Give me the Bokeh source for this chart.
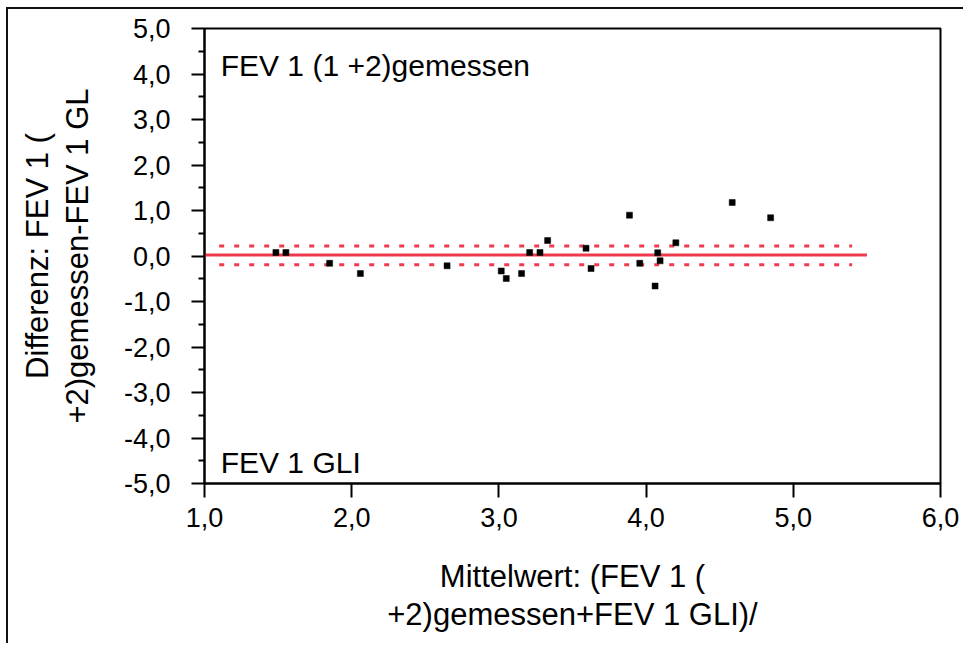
from bokeh.plotting import figure
from bokeh.models import (LinearAxis, Label, CustomJSTickFormatter, FixedTicker,
                          Range1d, ColumnDataSource)
from bokeh.embed import file_html
from bokeh.resources import INLINE

# --- data ---
mean_values = [1.485, 1.553, 1.850, 2.059, 2.648, 3.016, 3.050, 3.154, 3.209, 3.279,
               3.331, 3.592, 3.626, 3.887, 3.957, 4.061, 4.079, 4.095, 4.202, 4.585, 4.846]
diff_values = [0.077, 0.077, -0.160, -0.385, -0.216, -0.330, -0.495, -0.385, 0.077, 0.077,
               0.340, 0.170, -0.275, 0.897, -0.160, -0.660, 0.070, -0.106, 0.290, 1.176, 0.840]
bias = 0.02
ci_upper = 0.22
ci_lower = -0.19
bias_x = [1.0, 5.5]
ci_x = [1.1, 5.4]
x_ticks = [1, 2, 3, 4, 5, 6]
y_ticks = [-5, -4, -3, -2, -1, 0, 1, 2, 3, 4, 5]
y_minor = [-4.5, -3.5, -2.5, -1.5, -0.5, 0.5, 1.5, 2.5, 3.5, 4.5]
x_label_1 = "Mittelwert: (FEV 1 ("
x_label_2 = "+2)gemessen+FEV 1 GLI)/"
y_label_1 = "Differenz: FEV 1 ("
y_label_2 = "+2)gemessen-FEV 1 GL"
text_top = "FEV 1 (1 +2)gemessen"
text_bottom = "FEV 1 GLI"

FONT = "Liberation Sans"
RED = "#ef3a4e"
TICK_FS = "27px"
LABEL_FS = "31px"
TEXT_FS = "30px"

p = figure(width=957, height=636, x_range=Range1d(1, 6), y_range=Range1d(-5, 5),
           output_backend="svg", toolbar_location=None,
           min_border_left=196, min_border_top=19, min_border_right=25, min_border_bottom=162)
p.margin = (7, 0, 0, 6)
p.styles = {"border-top": "2px solid #111", "border-left": "2px solid #111"}

p.grid.visible = False
p.outline_line_color = "black"
p.outline_line_width = 2
p.background_fill_color = "white"
p.border_fill_color = "white"

fmt = CustomJSTickFormatter(code="return tick.toFixed(1).replace('.', ',');")

xa = p.xaxis[0]
xa.ticker = FixedTicker(ticks=x_ticks)
xa.formatter = fmt
xa.axis_line_width = 2
xa.major_tick_line_width = 2
xa.major_tick_out = 14
xa.major_tick_in = 0
xa.minor_tick_line_color = None
xa.major_label_text_font = FONT
xa.major_label_text_font_size = TICK_FS
xa.major_label_text_color = "black"
xa.major_label_standoff = 10
xa.axis_label = x_label_1
xa.axis_label_text_font = FONT
xa.axis_label_text_font_size = LABEL_FS
xa.axis_label_text_font_style = "normal"
xa.axis_label_text_color = "black"
xa.axis_label_standoff = 29

ya = p.yaxis[0]
ya.ticker = FixedTicker(ticks=y_ticks, minor_ticks=y_minor)
ya.formatter = fmt
ya.axis_line_width = 2
ya.major_tick_line_width = 2
ya.minor_tick_line_width = 2
ya.major_tick_out = 13
ya.major_tick_in = 0
ya.minor_tick_out = 6
ya.minor_tick_in = 0
ya.major_label_text_font = FONT
ya.major_label_text_font_size = TICK_FS
ya.major_label_text_color = "black"
ya.major_label_standoff = 21
ya.axis_label = y_label_2
ya.axis_label_text_font = FONT
ya.axis_label_text_font_size = LABEL_FS
ya.axis_label_text_font_style = "normal"
ya.axis_label_text_color = "black"
ya.axis_label_standoff = 26

xa2 = LinearAxis(ticker=FixedTicker(ticks=[]), axis_line_color=None,
                 major_tick_line_color=None, minor_tick_line_color=None,
                 axis_label=x_label_2, axis_label_text_font=FONT,
                 axis_label_text_font_size=LABEL_FS, axis_label_text_font_style="normal",
                 axis_label_text_color="black", axis_label_standoff=0)
p.add_layout(xa2, "below")

ya2 = LinearAxis(ticker=FixedTicker(ticks=[]), axis_line_color=None,
                 major_tick_line_color=None, minor_tick_line_color=None,
                 axis_label=y_label_1, axis_label_text_font=FONT,
                 axis_label_text_font_size=LABEL_FS, axis_label_text_font_style="normal",
                 axis_label_text_color="black", axis_label_standoff=2)
p.add_layout(ya2, "left")

# bias and confidence lines
p.line(bias_x, [bias, bias], line_color=RED, line_width=3)
p.line(ci_x, [ci_upper, ci_upper], line_color=RED, line_width=3, line_dash="5 10")
p.line(ci_x, [ci_lower, ci_lower], line_color=RED, line_width=3, line_dash="5 10")

src = ColumnDataSource(dict(x=mean_values, y=diff_values))
p.scatter("x", "y", source=src, marker="square", size=6, fill_color="black",
          line_color="black", line_width=0.5)

p.add_layout(Label(x=1.11, y=4.19, text=text_top, text_font=FONT,
                   text_font_size=TEXT_FS, text_baseline="middle", text_color="black"))
p.add_layout(Label(x=1.11, y=-4.54, text=text_bottom, text_font=FONT,
                   text_font_size=TEXT_FS, text_baseline="middle", text_color="black"))

open("out.html", "w").write(file_html(p, INLINE))
